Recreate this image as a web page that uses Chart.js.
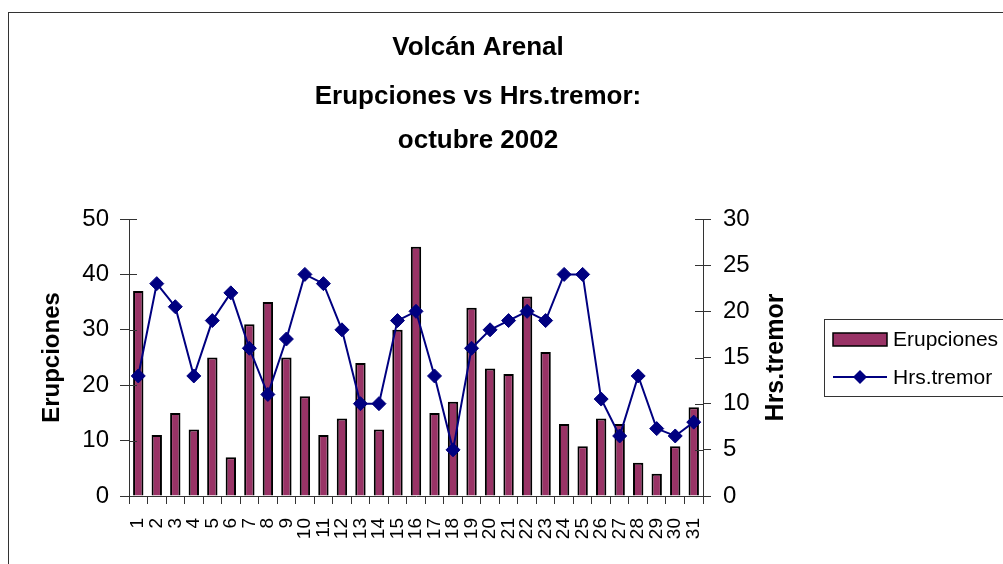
<!DOCTYPE html>
<html>
<head>
<meta charset="utf-8">
<script src="https://cdn.jsdelivr.net/npm/chart.js@4/dist/chart.umd.min.js"></script>
<style>
  html, body { margin: 0; padding: 0; background: #fff; overflow: hidden; }
  #wrap { width: 1003px; height: 564px; }
</style>
</head>
<body>
<div id="wrap"><canvas id="c" width="1003" height="564"></canvas></div>
<script>
// ---- data ----
const days = ['1','2','3','4','5','6','7','8','9','10','11','12','13','14','15','16','17','18','19','20','21','22','23','24','25','26','27','28','29','30','31'];
const erupciones = [37,11,15,12,25,7,31,35,25,18,11,14,24,12,30,45,15,17,34,23,22,36,26,13,9,14,13,6,4,9,16];
const hrsTremor = [13,23,20.5,13,19,22,16,11,17,24,23,18,10,10,19,20,13,5,16,18,19,20,19,24,24,10.5,6.5,13,7.3,6.5,8];
const titleLines = ['Volcán Arenal', 'Erupciones vs Hrs.tremor:', 'octubre 2002'];
const leftTicks = [0,10,20,30,40,50];
const rightTicks = [0,5,10,15,20,25,30];

const FONT = '"Liberation Sans", Arial, sans-serif';
const BAR_COLOR = '#993366';
const LINE_COLOR = '#000080';
const AXIS_COLOR = '#333333';

const decorPlugin = {
  id: 'decor',
  beforeDraw(chart) {
    const ctx = chart.ctx;
    ctx.save();
    ctx.fillStyle = '#fff';
    ctx.fillRect(0, 0, chart.width, chart.height);
    ctx.strokeStyle = '#333';
    ctx.lineWidth = 1;
    ctx.strokeRect(8.5, 12.5, 2000, 2000);
    ctx.restore();
  },
  afterDraw(chart) {
    const ctx = chart.ctx;
    const y = chart.scales.y, y1 = chart.scales.y1;
    ctx.save();
    // title
    ctx.fillStyle = '#000';
    ctx.font = 'bold 26px ' + FONT;
    ctx.textAlign = 'center';
    ctx.textBaseline = 'middle';
    const ty = [48, 97, 141];
    titleLines.forEach((t, i) => ctx.fillText(t, 478, ty[i]));
    // inner halves of the cross tick marks
    ctx.strokeStyle = AXIS_COLOR;
    ctx.lineWidth = 1;
    ctx.beginPath();
    y.ticks.forEach(t => {
      const p = Math.round(y.getPixelForValue(t.value)) + 0.5;
      ctx.moveTo(y.right, p); ctx.lineTo(y.right + 8, p);
    });
    y1.ticks.forEach(t => {
      const p = Math.round(y1.getPixelForValue(t.value)) + 0.5;
      ctx.moveTo(y1.left, p); ctx.lineTo(y1.left - 8, p);
    });
    ctx.stroke();
    // right axis title (reads bottom to top)
    ctx.save();
    ctx.translate(776, (y1.top + y1.bottom) / 2);
    ctx.rotate(-Math.PI / 2);
    ctx.font = 'bold 25px ' + FONT;
    ctx.fillStyle = '#000';
    ctx.textAlign = 'center';
    ctx.textBaseline = 'middle';
    ctx.fillText('Hrs.tremor', 0, 0);
    ctx.restore();
    // legend
    const lx = 824.5, ly = 319.5;
    ctx.strokeStyle = '#333';
    ctx.lineWidth = 1;
    ctx.strokeRect(lx, ly, 200, 77);
    ctx.fillStyle = BAR_COLOR;
    ctx.fillRect(833, 333, 54, 13);
    ctx.strokeStyle = '#000';
    ctx.lineWidth = 1.5;
    ctx.strokeRect(833, 333, 54, 13);
    ctx.strokeStyle = LINE_COLOR;
    ctx.lineWidth = 2;
    ctx.beginPath(); ctx.moveTo(833, 377); ctx.lineTo(887, 377); ctx.stroke();
    ctx.fillStyle = LINE_COLOR;
    ctx.beginPath();
    ctx.moveTo(860, 370); ctx.lineTo(867, 377); ctx.lineTo(860, 384); ctx.lineTo(853, 377); ctx.closePath();
    ctx.fill();
    ctx.fillStyle = '#000';
    ctx.font = '21px ' + FONT;
    ctx.textAlign = 'left';
    ctx.textBaseline = 'middle';
    ctx.fillText('Erupciones', 893, 340);
    ctx.fillText('Hrs.tremor', 893, 378);
    ctx.restore();
  }
};

new Chart(document.getElementById('c'), {
  data: {
    labels: days,
    datasets: [
      {
        type: 'line',
        label: 'Hrs.tremor',
        data: hrsTremor,
        yAxisID: 'y1',
        order: 0,
        borderColor: LINE_COLOR,
        borderWidth: 2,
        backgroundColor: LINE_COLOR,
        pointStyle: 'rectRot',
        pointRadius: 7,
        pointHoverRadius: 7,
        pointBackgroundColor: LINE_COLOR,
        pointBorderColor: LINE_COLOR,
        pointBorderWidth: 1,
        tension: 0,
        fill: false
      },
      {
        type: 'bar',
        label: 'Erupciones',
        data: erupciones,
        yAxisID: 'y',
        order: 1,
        backgroundColor: BAR_COLOR,
        borderColor: '#000',
        borderWidth: 2,
        barPercentage: 0.56,
        categoryPercentage: 1.0
      }
    ]
  },
  options: {
    responsive: false,
    animation: false,
    devicePixelRatio: 1,
    layout: { padding: { top: 219, left: 0, right: 200, bottom: 0 } },
    plugins: {
      legend: { display: false },
      title: { display: false },
      tooltip: { enabled: false }
    },
    scales: {
      x: {
        type: 'category',
        offset: true,
        grid: { offset: true, drawOnChartArea: false, drawTicks: true, tickLength: 8, color: AXIS_COLOR },
        border: { display: true, color: AXIS_COLOR, width: 1 },
        ticks: {
          autoSkip: false, minRotation: 90, maxRotation: 90, padding: 14,
          color: '#000', font: { family: FONT, size: 19 }
        },
        afterFit(s) { s.height = 68; }
      },
      y: {
        position: 'left',
        min: 0, max: 50,
        afterBuildTicks(s) { s.ticks = leftTicks.map(v => ({ value: v })); },
        grid: { drawOnChartArea: false, drawTicks: true, tickLength: 9, color: AXIS_COLOR },
        border: { display: true, color: AXIS_COLOR, width: 1 },
        ticks: { padding: 11, color: '#000', font: { family: FONT, size: 24 } },
        title: { display: true, text: 'Erupciones', color: '#000', padding: { top: 38, bottom: 0 }, font: { family: FONT, size: 24, weight: 'bold' } },
        afterFit(s) { s.width = 129; }
      },
      y1: {
        position: 'right',
        min: 0, max: 30,
        afterBuildTicks(s) { s.ticks = rightTicks.map(v => ({ value: v })); },
        grid: { drawOnChartArea: false, drawTicks: true, tickLength: 8, color: AXIS_COLOR },
        border: { display: true, color: AXIS_COLOR, width: 1 },
        ticks: { padding: 12, color: '#000', font: { family: FONT, size: 24 } },
        afterFit(s) { s.width = 100; }
      }
    }
  },
  plugins: [decorPlugin]
});
</script>
</body>
</html>
